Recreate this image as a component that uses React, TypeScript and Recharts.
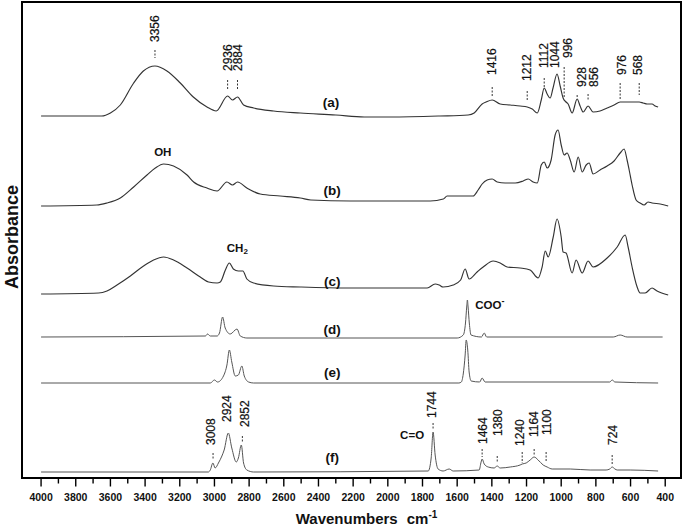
import React from 'react';
import { LineChart, Line, XAxis, YAxis, ReferenceArea, ReferenceLine, ReferenceDot, Label } from 'recharts';

// ---- axis ticks (wavenumbers, cm-1) ----
const majorTicks = [4000, 3800, 3600, 3400, 3200, 3000, 2800, 2600, 2400, 2200, 2000, 1800, 1600, 1400, 1200, 1000, 800, 600, 400];
const minorTicks = [3900, 3700, 3500, 3300, 3100, 2900, 2700, 2500, 2300, 2100, 1900, 1700, 1500, 1300, 1100, 900, 700, 500];
const allTicks = [...majorTicks, ...minorTicks].sort((p, q) => q - p);

// ---- spectra: vertical offsets (stacking) and relative absorbance ----
const spectrumNames = ['(a)', '(b)', '(c)', '(d)', '(e)', '(f)'];
const offsets = [362, 272, 184, 141, 95, 6];

const waveA = [4000, 3800, 3650, 3600, 3543, 3466, 3410, 3343, 3274, 3197, 3122, 3043, 2990, 2924, 2896, 2867, 2832, 2774, 2659, 2505, 2300, 2136, 1985, 1700, 1537, 1502, 1456, 1433, 1398, 1352, 1294, 1237, 1196, 1167, 1138, 1115, 1098, 1081, 1064, 1047, 1024, 1006, 989, 972, 960, 937, 908, 891, 873, 845, 816, 776, 735, 695, 660, 602, 550, 527, 504, 476, 458, 441];
const absA = [0, 0, 0, 3, 11, 33, 45, 50, 45, 33, 19, 9, 5, 20, 16, 19, 11, 8, 5, 3, 1, -1, -1, 0, 1, 3, 12, 14, 16, 12, 11, 10, 9, 7, 3, 16, 28, 22, 18, 28, 42, 30, 18, 14, 12, 3, 17, 10, 4, 10, 4, 5, 8, 11, 14, 14, 14, 13, 12, 12, 10, 9];

const waveB = [4000, 3678, 3620, 3543, 3466, 3389, 3341, 3293, 3236, 3158, 3120, 3043, 2985, 2928, 2896, 2867, 2813, 2736, 2621, 2505, 2444, 2216, 1755, 1680, 1658, 1616, 1508, 1479, 1456, 1427, 1398, 1369, 1323, 1265, 1219, 1190, 1162, 1138, 1115, 1098, 1081, 1058, 1035, 1018, 1000, 983, 966, 948, 925, 902, 879, 856, 839, 816, 776, 735, 695, 660, 637, 620, 608, 591, 568, 545, 522, 499, 476, 429, 383];
const absB = [0, 1, 3, 8, 19, 31, 38, 42, 40, 31, 24, 18, 15, 24, 21, 24, 18, 12, 10, 8, 6, 5, 5, 7, 10, 10, 10, 16, 22, 26, 27, 24, 23, 23, 25, 27, 24, 23, 41, 44, 38, 46, 71, 76, 61, 51, 53, 46, 34, 49, 34, 41, 43, 32, 36, 40, 45, 53, 57, 46, 36, 21, 6, 3, 1, 4, 3, 2, 0];

const waveC = [4000, 3668, 3620, 3562, 3485, 3409, 3351, 3293, 3236, 3158, 3082, 3034, 2985, 2966, 2937, 2914, 2891, 2862, 2836, 2813, 2774, 2659, 2505, 2234, 1773, 1727, 1704, 1681, 1623, 1580, 1554, 1531, 1485, 1450, 1392, 1352, 1312, 1237, 1179, 1133, 1110, 1092, 1075, 1046, 1024, 1000, 989, 972, 937, 914, 879, 845, 816, 735, 677, 631, 614, 591, 562, 545, 516, 476, 447, 383];
const absC = [0, 1, 3, 9, 18, 28, 34, 37, 34, 26, 17, 12, 11, 12, 24, 31, 25, 23, 23, 15, 11, 8, 7, 6, 6, 10, 9, 7, 9, 14, 25, 15, 22, 27, 33, 31, 27, 26, 24, 16, 27, 43, 37, 57, 75, 57, 42, 41, 21, 34, 21, 33, 27, 36, 47, 59, 47, 27, 7, 1, 1, 6, 3, -1];

const waveD = [4000, 3052, 3040, 3024, 2985, 2971, 2953, 2938, 2909, 2870, 2851, 2813, 1600, 1565, 1552, 1545, 1541, 1537, 1530, 1520, 1460, 1444, 1430, 700, 660, 620, 415];
const absD = [0, 1, 3, 1, 1, 4, 20, 9, 3, 8, 1, -1, -1, 2, 14, 30, 37, 30, 14, 2, 0, 4, 0, 0, 2, 0, 0];

const waveE = [4000, 3024, 3000, 2982, 2948, 2928, 2914, 2900, 2880, 2862, 2842, 2828, 2803, 2774, 1590, 1576, 1565, 1554, 1548, 1539, 1531, 1519, 1470, 1456, 1439, 720, 706, 690, 441];
const absE = [0, 0, 3, 1, 7, 18, 33, 21, 7, 8, 17, 7, 1, 0, 0, 1, 9, 28, 43, 33, 11, 2, 1, 5, 1, 1, 3, 1, 0];

const waveF = [4000, 3035, 3024, 3009, 2996, 2977, 2957, 2944, 2920, 2900, 2874, 2862, 2845, 2832, 2813, 2774, 1767, 1750, 1739, 1727, 1710, 1681, 1646, 1623, 1473, 1462, 1456, 1444, 1421, 1387, 1369, 1352, 1294, 1237, 1225, 1202, 1179, 1156, 1133, 1104, 1081, 1052, 948, 833, 741, 720, 706, 690, 677, 602, 441];
const absF = [0, 0, 2, 9, 4, 9, 16, 22, 39, 24, 10, 14, 27, 9, 2, 0, 1, 14, 40, 17, 3, 1, 3, 1, 2, 10, 13, 8, 5, 4, 6, 4, 5, 7, 8, 9, 12, 15, 12, 7, 5, 3, 3, 2, 2, 3, 5, 3, 2, 2, 1];

const waves = [waveA, waveB, waveC, waveD, waveE, waveF];
const absorbances = [absA, absB, absC, absD, absE, absF];

// ---- peak annotations: text, label x, label base y, tick x, tick top, tick bottom ----
const peakTextA = ['3356', '2936', '2884', '1416', '1212', '1112', '1044', '996', '928', '856', '976', '568'];
const peakLabelWA = [3343, 2924, 2867, 1398, 1196, 1098, 1035, 960, 879, 810, 648, 556];
const peakLabelYA = [436, 407, 407, 403, 397, 410, 410, 420, 391, 391, 403, 403];
const peakTickWA = [3343, 2924, 2867, 1398, 1196, 1098, null, 983, 908, 845, 660, 550];
const peakTickTopA = [428, 398, 398, 391, 387, 400, null, 411, 383, 384, 395, 395];
const peakTickBotA = [420, 388, 388, 381, 378, 391, null, 381, 380, 378, 378, 383];

const peakTextF = ['3008', '2924', '2852', '1744', '1464', '1380', '1240', '1164', '1100', '724'];
const peakLabelWF = [3018, 2926, 2822, 1745, 1450, 1364, 1237, 1156, 1081, 700];
const peakLabelYF = [33, 56, 51, 60, 34, 42, 32, 41, 43, 33];
const peakTickWF = [3008, null, 2839, 1739, 1456, 1369, 1225, 1156, 1087, 706];
const peakTickTopF = [25, null, 42, 55, 29, 22, 26, 29, 26, 23];
const peakTickBotF = [19, null, 36, 49, 21, 15, 15, 23, 16, 14];

// ---- curve names and group labels: x (cm-1), y ----
const nameW = [2328, 2321, 2321, 2321, 2321, 2321];
const nameY = [376, 288, 197, 149, 106, 21];

const groupText = ['OH', 'CH2', 'COO-', 'C=O'];
const groupW = [3298, 2868, 1496, 1860];
const groupY = [326, 230, 173, 43];

const FONT = '"Liberation Sans", Arial, Helvetica, sans-serif';

const seriesData = waves.map((ws, k) => ws.map((w, i) => ({ w, y: offsets[k] + absorbances[k][i] })));

const XTick = (props: any) => {
  const { x, y, payload } = props;
  const v = payload.value;
  const major = majorTicks.includes(v);
  return (
    <g>
      <line x1={x} x2={x} y1={y} y2={y + (major ? 8.5 : 5.5)} stroke="#000" strokeWidth={1.4} />
      {major && (
        <text x={x} y={y + 23} textAnchor="middle" fontSize={10.5} fontWeight="bold" fontFamily={FONT} fill="#111">
          {v}
        </text>
      )}
    </g>
  );
};

const peakShape = (text: string) => (p: any) => (
  <text
    x={p.cx}
    y={p.cy}
    transform={`rotate(-90 ${p.cx} ${p.cy})`}
    textAnchor="start"
    dominantBaseline="central"
    fontSize={12}
    fontFamily={FONT}
    fill="#111"
    stroke="#111"
    strokeWidth={0.2}
  >
    {text}
  </text>
);

const nameShape = (text: string) => (p: any) => (
  <text x={p.cx} y={p.cy} textAnchor="middle" dominantBaseline="central" fontSize={13.5} fontWeight="bold" fontFamily={FONT} fill="#111">
    {text}
  </text>
);

const groupShape = (text: string) => (p: any) => {
  const common = { fontSize: 11.5, fontWeight: 'bold' as const, fontFamily: FONT, fill: '#111', dominantBaseline: 'central' as const };
  if (text === 'CH2') {
    return (
      <text x={p.cx} y={p.cy} textAnchor="middle" {...common}>
        <tspan>CH</tspan>
        <tspan fontSize={8} dy={3}>2</tspan>
      </text>
    );
  }
  if (text === 'COO-') {
    return (
      <text x={p.cx} y={p.cy} textAnchor="start" {...common}>
        <tspan>COO</tspan>
        <tspan fontSize={9} dy={-4}>-</tspan>
      </text>
    );
  }
  return (
    <text x={p.cx} y={p.cy} textAnchor="middle" {...common}>
      {text}
    </text>
  );
};

const XLabel = (props: any) => {
  const vb = props.viewBox || { x: 22, y: 478, width: 659, height: 49 };
  const cx = vb.x + vb.width / 2 + 15;
  return (
    <text x={cx} y={vb.y + 46} textAnchor="middle" fontSize={15} fontWeight="bold" fontFamily={FONT} fill="#111">
      <tspan>Wavenumbers</tspan>
      <tspan dx={9}>cm</tspan>
      <tspan fontSize={10} dy={-6}>-1</tspan>
    </text>
  );
};

const YLabel = (props: any) => {
  const vb = props.viewBox || { x: 0, y: 2, width: 22, height: 476 };
  const x = vb.x + 12;
  const y = vb.y + vb.height / 2 - 3;
  return (
    <text x={x} y={y} transform={`rotate(-90 ${x} ${y})`} textAnchor="middle" dominantBaseline="central" fontSize={18} fontWeight="bold" fontFamily={FONT} fill="#111">
      Absorbance
    </text>
  );
};

const lineColors = ['#333333', '#333333', '#333333', '#555555', '#555555', '#555555'];
const lineWidths = [1.15, 1.15, 1.15, 1, 1, 1];

export default function App() {
  return (
    <div style={{ position: 'absolute', left: 0, top: 0, width: 685, height: 527, background: '#fff' }}>
      <LineChart width={685} height={527} margin={{ top: 2, right: 4, bottom: 0, left: 0 }}>
        <XAxis
          type="number"
          dataKey="w"
          domain={[309, 4110]}
          reversed
          allowDataOverflow
          ticks={allTicks}
          interval={0}
          tick={<XTick />}
          tickLine={false}
          tickSize={0}
          tickMargin={0}
          axisLine={false}
          height={49}
        >
          <Label content={<XLabel />} />
        </XAxis>
        <YAxis type="number" domain={[0, 476]} allowDataOverflow width={22} tick={false} tickLine={false} axisLine={false}>
          <Label content={<YLabel />} />
        </YAxis>

        {seriesData.map((d, k) => (
          <Line
            key={spectrumNames[k]}
            data={d}
            dataKey="y"
            type="monotone"
            dot={false}
            activeDot={false}
            stroke={lineColors[k]}
            strokeWidth={lineWidths[k]}
            isAnimationActive={false}
          />
        ))}

        {peakTextA.map((t, i) =>
          peakTickWA[i] !== null ? (
            <ReferenceLine
              key={'ta' + t}
              segment={[{ x: peakTickWA[i] as number, y: peakTickTopA[i] as number }, { x: peakTickWA[i] as number, y: peakTickBotA[i] as number }]}
              stroke="#333"
              strokeWidth={1}
              strokeDasharray="2 1.5"
              ifOverflow="visible"
            />
          ) : null
        )}
        {peakTextF.map((t, i) =>
          peakTickWF[i] !== null ? (
            <ReferenceLine
              key={'tf' + t}
              segment={[{ x: peakTickWF[i] as number, y: peakTickTopF[i] as number }, { x: peakTickWF[i] as number, y: peakTickBotF[i] as number }]}
              stroke="#333"
              strokeWidth={1}
              strokeDasharray="2 1.5"
              ifOverflow="visible"
            />
          ) : null
        )}
        {peakTextA.map((t, i) => (
          <ReferenceDot key={'la' + t} x={peakLabelWA[i]} y={peakLabelYA[i]} r={1} shape={peakShape(t)} ifOverflow="visible" />
        ))}
        {peakTextF.map((t, i) => (
          <ReferenceDot key={'lf' + t} x={peakLabelWF[i]} y={peakLabelYF[i]} r={1} shape={peakShape(t)} ifOverflow="visible" />
        ))}
        {spectrumNames.map((t, i) => (
          <ReferenceDot key={'n' + t} x={nameW[i]} y={nameY[i]} r={1} shape={nameShape(t)} ifOverflow="visible" />
        ))}
        {groupText.map((t, i) => (
          <ReferenceDot key={'g' + t} x={groupW[i]} y={groupY[i]} r={1} shape={groupShape(t)} ifOverflow="visible" />
        ))}

        <ReferenceArea x1={309} x2={4110} y1={0} y2={476} fill="none" fillOpacity={0} stroke="#000" strokeWidth={2} ifOverflow="visible" />
      </LineChart>
    </div>
  );
}
